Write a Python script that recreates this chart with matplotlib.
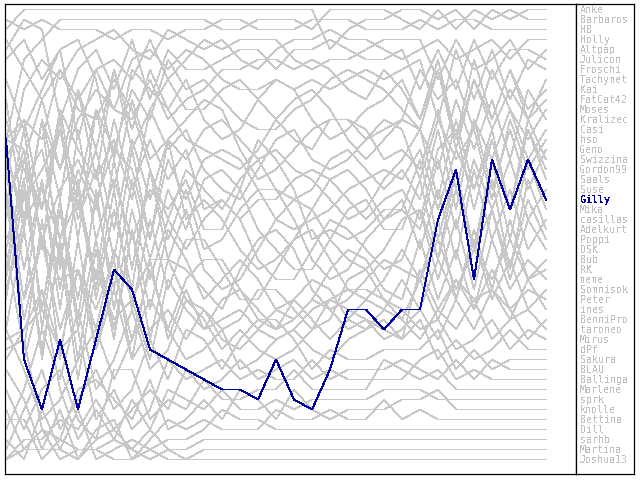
import matplotlib
matplotlib.use('Agg')
import matplotlib.pyplot as plt

plt.rcParams['text.antialiased'] = False

names = ['Anke', 'Barbaros', 'HB', 'Holly', 'Altpap', 'Julicon', 'Froschi',
         'Tachymet', 'Kai', 'FatCat42', 'Moses', 'Kralizec', 'Casi', 'hso',
         'Geno', 'Swizzina', 'Gordon99', 'Saals', 'Suse', 'Gilly', 'Mika',
         'casillas', 'Adelkurt', 'Poppi', 'DSK', 'Bub', 'RK', 'meme',
         'Somnisok', 'Peter', 'ines', 'BenniPro', 'taroneo', 'Mirus', 'dPf',
         'Sakura', 'BLAU', 'Ballinga', 'Marlene', 'sprk', 'knolle', 'Bettina',
         'Dill', 'sarhb', 'Martina', 'Joshua13']

rounds = list(range(31))

# rank per round (1 = top)
anke = [3,1,1,1,1,1,1,1,1,1,1, 1,1,1,1,1,1,1,5,3,2,2,1, 1,2,1,3,1,2,1,1]
barbaros = [14,6,4,2,2,2,2,2,2,2,2, 2,3,3,2,2,2,3,1,1,1,1,2, 3,1,3,1,2,1,2,2]
hb = [2,3,2,3,3,3,4,3,3,4,3, 3,2,2,3,3,3,2,2,2,3,3,3, 2,3,2,2,3,3,3,3]
holly = [18,9,6,8,5,4,3,5,6,3,4, 5,4,6,7,5,4,4,3,4,4,5,6, 5,4,6,5,4,6,4,4]
altpap = [16,12,14,7,10,7,6,8,4,8,6, 4,5,4,4,4,6,7,6,6,5,4,4, 4,8,4,7,6,4,7,5]
julicon = [5,2,3,12,7,5,9,4,10,5,7, 7,6,5,5,7,5,5,4,5,6,6,5, 9,5,9,4,8,5,5,6]
froschi = [20,16,10,17,12,9,11,6,5,7,5, 6,8,9,9,8,9,8,9,8,7,8,7, 6,12,5,10,5,10,6,7]
tachymet = [8,13,9,5,14,7,11,12,8,12,10, 9,7,7,6,6,7,6,7,9,10,7,9, 12,6,14,6,12,7,12,8]
kai = [24,20,17,13,19,11,15,9,12,6,9, 8,10,12,13,13,11,10,8,7,8,9,11, 13,7,15,8,12,7,11,9]
fatcat42 = [12,17,21,11,15,18,7,13,7,11,8, 12,14,13,10,8,9,12,14,13,11,10,8, 12,7,14,8,13,9,12,10]
moses = [6,4,8,5,4,8,16,7,9,11,14, 15,16,17,15,12,10,9,11,14,16,14,12, 7,10,8,13,7,11,14,11]
kralizec = [15,23,12,20,9,15,7,15,11,8,11, 11,9,8,10,12,14,15,12,12,14,13,12, 13,17,10,15,10,16,9,12]
casi = [27,16,21,12,24,11,19,10,16,14,12, 10,11,15,18,17,15,13,12,12,13,16,15, 17,11,19,12,16,11,16,13]
hso = [10,22,12,17,9,18,14,20,11,15,13, 17,19,20,17,14,13,16,17,16,14,12,13, 18,12,16,13,20,12,17,14]
geno = [22,13,25,11,21,15,23,14,20,14,16, 13,12,14,16,19,20,19,16,15,17,19,17, 20,13,21,12,19,13,19,15]
swizzina = [4,7,10,7,11,12,8,11,17,22,17, 19,21,18,16,15,17,18,20,22,21,18,16, 13,20,12,19,13,21,12,16]
gordon99 = [25,18,15,24,17,21,12,19,14,18,15, 21,20,22,20,20,18,17,18,20,22,20,19, 22,15,13,21,14,21,13,17]
saals = [14,12,21,13,22,17,26,15,24,16,20, 16,15,16,19,22,23,22,21,19,18,17,18, 15,21,15,19,14,21,13,18]
suse = [29,22,12,27,13,24,18,24,19,21,18, 23,23,19,14,16,19,24,23,24,23,21,21, 23,16,23,16,21,16,22,19]
gilly = [14,36,41,34,41,34,27,29,35,36,37, 38,39,39,40,36,40,41,37,31,31,33,31, 31,22,17,28,16,21,16,20]
mika = [14,15,24,19,16,20,15,17,24,14,22, 20,22,25,27,26,24,21,18,17,19,22,21, 16,24,17,25,16,24,16,21]
casillas = [20,30,18,29,19,28,16,27,17,24,19, 25,24,21,19,19,22,26,28,27,24,22,20, 25,19,26,17,24,19,25,22]
adelkurt = [30,19,31,21,30,20,29,18,26,19,23, 18,17,19,23,25,27,27,24,21,20,23,23, 18,26,17,25,21,27,18,23]
poppi = [17,27,18,31,18,30,21,29,17,26,21, 27,29,28,25,22,20,21,24,26,27,25,22, 21,26,19,25,18,27,20,24]
dsk = [28,18,31,20,32,19,31,21,28,22,25, 22,20,22,26,28,28,25,22,23,25,27,26, 21,28,22,29,21,28,22,25]
bub = [15,22,19,24,20,29,19,31,22,29,24, 24,27,30,30,27,24,23,26,29,30,28,25, 28,22,30,23,29,22,28,26]
rk = [36,33,29,35,27,33,25,30,26,26,27, 29,31,27,24,23,25,29,31,30,28,26,27, 28,24,29,25,28,24,28,27]
meme = [21,15,33,21,33,24,33,23,31,23,26, 30,28,26,28,31,32,30,27,25,26,29,30, 24,30,25,31,24,29,26,28]
somnisok = [25,35,22,36,24,35,27,34,27,33,28, 26,26,29,32,33,30,28,29,32,33,31,28, 31,26,30,24,30,26,31,29]
peter = [33,23,36,24,36,25,34,23,34,26,30, 31,33,32,29,29,31,33,32,28,27,30,32, 28,32,28,31,27,31,29,30]
ines = [20,32,24,28,27,31,26,36,26,34,29, 33,32,31,33,34,33,31,30,31,32,33,34, 27,31,28,30,29,32,28,31]
bennipro = [29,23,35,25,38,27,32,30,36,28,31, 33,30,29,31,33,32,30,31,33,32,34,33, 31,34,30,33,29,31,34,32]
taroneo = [19,30,24,33,27,35,29,36,33,31,34, 31,34,35,33,31,30,32,34,32,30,31,32, 34,31,33,30,34,32,31,33]
mirus = [43,39,33,38,31,39,36,31,37,35,30, 32,35,33,35,36,35,33,30,29,29,30,31, 33,32,35,34,32,35,33,34]
dpf = [33,37,42,40,36,33,38,34,30,33,36, 35,33,37,36,34,33,35,36,34,33,32,34, 32,36,34,36,35,33,35,35]
sakura = [45,41,37,43,40,37,41,39,34,38,33, 34,37,34,32,32,34,37,35,36,36,35,35, 35,33,37,35,37,36,36,36]
blau = [34,33,31,35,33,42,39,43,41,36,38, 37,36,38,37,38,38,36,38,37,37,37,36, 37,38,36,38,36,37,37,37]
ballinga = [46,44,44,42,43,40,43,41,39,41,37, 39,38,36,38,37,36,38,37,38,38,38,38, 36,35,38,37,38,38,38,38]
marlene = [39,43,39,37,42,44,37,37,42,40,41, 38,40,40,39,39,37,39,39,39,39,36,37, 38,37,39,39,39,39,39,39]
sprk = [16,36,29,39,44,41,44,40,43,39,40, 41,39,41,41,40,41,40,40,40,40,39,39, 39,40,40,40,40,40,40,40]
knolle = [41,45,43,44,39,38,40,42,38,43,42, 40,42,39,40,42,39,41,42,41,41,41,40, 40,39,41,41,41,41,41,41]
bettina = [37,40,45,41,46,43,42,46,44,42,43, 42,43,43,43,41,42,42,41,42,42,40,42, 41,42,42,42,42,42,42,42]
dill = [44,46,41,45,41,46,45,44,45,44,44, 43,41,42,42,43,43,43,43,43,43,43,43, 43,43,43,43,43,43,43,43]
sarhb = [42,42,46,44,45,45,44,45,43,45,45, 44,44,44,44,44,44,44,44,44,44,44,44, 44,44,44,44,44,44,44,44]
martina = [35,34,43,46,45,45,46,46,45,46,46, 45,45,45,45,45,45,45,45,45,45,45,45, 45,45,45,45,45,45,45,45]
joshua13 = [46,45,45,45,46,44,43,45,46,45,46, 46,46,46,46,46,46,46,46,46,46,46,46, 46,46,46,46,46,46,46,46]

series = [anke, barbaros, hb, holly, altpap, julicon, froschi, tachymet, kai,
          fatcat42, moses, kralizec, casi, hso, geno, swizzina, gordon99,
          saals, suse, gilly, mika, casillas, adelkurt, poppi, dsk, bub, rk,
          meme, somnisok, peter, ines, bennipro, taroneo, mirus, dpf, sakura,
          blau, ballinga, marlene, sprk, knolle, bettina, dill, sarhb,
          martina, joshua13]

highlight = 'Gilly'
grey = '#c8c8c8'
blue = '#0000a0'

fig = plt.figure(figsize=(6.4, 4.8), dpi=100)

ax = fig.add_axes([5/640, 6/480, 571/640, 470/480])
ax.set_xlim(-1/18, 570/18)
ax.set_ylim(47.45, 0.45)
ax.set_xticks([])
ax.set_yticks([])
for s in ax.spines.values():
    s.set_linewidth(0.9)
    s.set_color('black')

for name, r in zip(names, series):
    if name == highlight:
        continue
    ax.plot(rounds, r, color=grey, lw=0.5, antialiased=False)
ax.plot(rounds, gilly, color=blue, lw=0.7, antialiased=False, zorder=3)

# name list on the right
ax2 = fig.add_axes([576/640, 6/480, 58/640, 470/480])
ax2.set_xlim(0, 1)
ax2.set_ylim(47.45, 0.45)
ax2.set_xticks([])
ax2.set_yticks([])
for s in ax2.spines.values():
    s.set_linewidth(0.9)
    s.set_color('black')

for i, name in enumerate(names):
    hi = name == highlight
    ax2.text(4/58, i + 1.35, name, family='DejaVu Sans Mono', fontsize=7.2,
             color=blue if hi else '#c0c0c0',
             fontweight='bold' if hi else 'normal', va='baseline', ha='left')

fig.savefig('out.png', dpi=100)
